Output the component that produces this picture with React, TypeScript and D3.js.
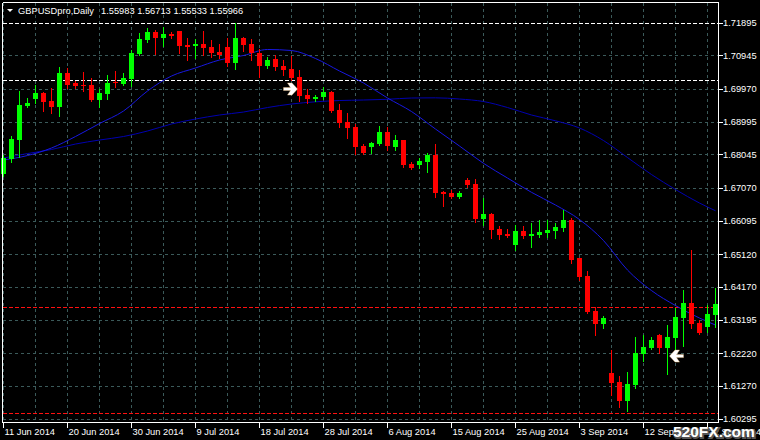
import * as d3 from 'd3'
import React from 'react'

// daily GBPUSD bars, 11 Jun 2014 .. 23 Sep 2014 (Sunday bars included)
const opens = [
  1.67471, 1.6791, 1.68467, 1.69472, 1.6966, 1.69844, 1.6961, 1.69434, 1.7043, 1.70128,
  1.70087, 1.70079, 1.69639, 1.69815, 1.70166, 1.70108, 1.70246, 1.70996, 1.71397, 1.71631,
  1.71456, 1.71573, 1.71661, 1.71259, 1.7123, 1.71289, 1.71201, 1.71045, 1.71192, 1.70723,
  1.71456, 1.7128, 1.71016, 1.70635, 1.7084, 1.70635, 1.70547, 1.70313, 1.69786, 1.69668,
  1.69727, 1.69873, 1.69346, 1.68994, 1.68848, 1.68291, 1.68262, 1.6835, 1.68701, 1.68262,
  1.68467, 1.67764, 1.67735, 1.67822, 1.68028, 1.66952, 1.66923, 1.66806, 1.67295, 1.67187,
  1.66152, 1.66308, 1.65859, 1.65713, 1.65391, 1.65801, 1.65654, 1.65684, 1.65742, 1.65801,
  1.65889, 1.66123, 1.6501, 1.64482, 1.63457, 1.63085, 1.6164, 1.61376, 1.60829, 1.61297,
  1.62206, 1.62373, 1.62754, 1.62381, 1.62674, 1.6326, 1.63691, 1.63105, 1.62997, 1.6334,
]
const highs = [
  1.68028, 1.68584, 1.69903, 1.69698, 1.70079, 1.69882, 1.69991, 1.70606, 1.70577, 1.70205,
  1.70468, 1.70275, 1.6997, 1.70372, 1.70489, 1.70439, 1.71104, 1.71602, 1.7174, 1.7169,
  1.71787, 1.71631, 1.71675, 1.71447, 1.71426, 1.71661, 1.71397, 1.7128, 1.71456, 1.71886,
  1.71494, 1.71426, 1.71142, 1.70908, 1.70958, 1.70811, 1.70928, 1.70518, 1.69953, 1.69786,
  1.7002, 1.69903, 1.69522, 1.69258, 1.68936, 1.6835, 1.68408, 1.68877, 1.68857, 1.68614,
  1.68482, 1.67822, 1.6794, 1.68086, 1.6835, 1.66982, 1.67002, 1.66973, 1.67354, 1.67324,
  1.66768, 1.66337, 1.65947, 1.65868, 1.65985, 1.65947, 1.66044, 1.66123, 1.66123, 1.66026,
  1.66425, 1.66182, 1.65024, 1.64629, 1.63565, 1.6331, 1.62314, 1.61552, 1.61669, 1.62695,
  1.62754, 1.62695, 1.62783, 1.63047, 1.63545, 1.64072, 1.65244, 1.63193, 1.63633, 1.64131,
]
const lows = [
  1.67412, 1.67822, 1.67969, 1.69434, 1.6956, 1.69326, 1.69267, 1.6917, 1.69982, 1.69982,
  1.69912, 1.69619, 1.69443, 1.6966, 1.70011, 1.70093, 1.70049, 1.70958, 1.71347, 1.70996,
  1.7123, 1.71456, 1.71016, 1.70811, 1.70878, 1.70966, 1.70908, 1.70878, 1.70635, 1.70547,
  1.71084, 1.70811, 1.70322, 1.70568, 1.70518, 1.7038, 1.70225, 1.6961, 1.69551, 1.6961,
  1.69668, 1.69287, 1.68857, 1.68534, 1.68057, 1.68071, 1.68095, 1.68335, 1.68174, 1.68174,
  1.67676, 1.67617, 1.67647, 1.67529, 1.66797, 1.66542, 1.66759, 1.66776, 1.67099, 1.66073,
  1.65977, 1.65604, 1.65566, 1.65625, 1.65244, 1.65604, 1.65341, 1.65634, 1.65616, 1.65604,
  1.6581, 1.64872, 1.64365, 1.63407, 1.62762, 1.62967, 1.61004, 1.60635, 1.60518, 1.61209,
  1.62001, 1.62343, 1.62226, 1.61602, 1.62352, 1.6244, 1.6295, 1.62783, 1.62841, 1.62997,
]
const closes = [
  1.6794, 1.68496, 1.69493, 1.69551, 1.69844, 1.6958, 1.69434, 1.7043, 1.70079, 1.70049,
  1.70049, 1.69639, 1.69844, 1.70137, 1.70128, 1.70284, 1.71025, 1.71426, 1.71631, 1.71456,
  1.71573, 1.71514, 1.71221, 1.71201, 1.71289, 1.71163, 1.71007, 1.70958, 1.70714, 1.71456,
  1.71251, 1.71016, 1.70635, 1.70811, 1.70606, 1.70518, 1.70284, 1.69756, 1.69668, 1.69727,
  1.69873, 1.69317, 1.68974, 1.68827, 1.68262, 1.68086, 1.68379, 1.68701, 1.68291, 1.68467,
  1.67735, 1.67647, 1.67852, 1.68028, 1.66914, 1.66894, 1.66806, 1.66923, 1.67149, 1.66152,
  1.66299, 1.6583, 1.65684, 1.65654, 1.65801, 1.65654, 1.65713, 1.65771, 1.6583, 1.65918,
  1.66123, 1.6496, 1.64462, 1.63436, 1.63085, 1.63252, 1.61356, 1.60829, 1.61327, 1.62226,
  1.62402, 1.62607, 1.62381, 1.62695, 1.63281, 1.63691, 1.63085, 1.62812, 1.63369, 1.63662,
]

// moving averages, read every third bar
const maBars = [0, 3, 6, 9, 12, 15, 18, 21, 24, 27, 30, 33, 36, 39, 42, 45, 48, 51, 54, 57, 60, 63, 66, 69, 72, 75, 78, 81, 84, 87, 89]
const fastMA = [
  1.67881, 1.68013, 1.68233, 1.6857, 1.6895, 1.69317, 1.69903, 1.70342, 1.70577, 1.70811,
  1.70943, 1.71119, 1.71089, 1.70855, 1.70489, 1.70137, 1.69698, 1.69302, 1.68789, 1.68291,
  1.67784, 1.67354, 1.66935, 1.66563, 1.66138, 1.65522, 1.64658, 1.64057, 1.63618, 1.63252, 1.63047,
]
const slowMA = [
  1.6794, 1.68071, 1.68189, 1.6835, 1.68467, 1.6857, 1.68731, 1.68936, 1.69082, 1.692,
  1.69287, 1.69419, 1.69522, 1.69586, 1.69624, 1.69639, 1.6966, 1.69698, 1.69703, 1.69668,
  1.69595, 1.69419, 1.692, 1.6903, 1.68819, 1.68452, 1.67954, 1.67456, 1.67017, 1.66621, 1.66395,
]

const priceTicks = [1.71895, 1.70945, 1.6997, 1.68995, 1.68045, 1.6707, 1.66095, 1.6512, 1.6417, 1.63195, 1.6222, 1.6127, 1.60295]
const dateBars = [0, 8, 16, 24, 32, 40, 48, 56, 64, 72, 80, 88]
const dateLabels = ['11 Jun 2014', '20 Jun 2014', '30 Jun 2014', '9 Jul 2014', '18 Jul 2014', '28 Jul 2014', '6 Aug 2014', '15 Aug 2014', '25 Aug 2014', '3 Sep 2014', '12 Sep 2014', '22 Sep 2014']

const whiteLevels = [1.71895, 1.70225]
const redLevels = [1.63574, 1.60477]

const arrowBars = [37, 83]
const arrowPrices = [1.69961, 1.62138]
const arrowDirs = [1, -1]

const W = 760
const H = 440
const left = 2.5
const right = 718.5
const top = 2.5
const bottom = 422.5
const font = '"Liberation Sans", Arial, sans-serif'
const gridColor = '#3b5a5a'

export default function App() {
  const x = d3.scaleLinear().domain([0, 89]).range([3.5, 715.5])
  const y = d3.scaleLinear().domain([1.60295, 1.71895]).range([419, 23])
  const py = (v: number) => Math.round(y(v)) + 0.5

  const fastLine = d3
    .line<number>()
    .x((_, i) => x(maBars[i]))
    .y(d => y(d))
    .curve(d3.curveMonotoneX)
  const slowLine = d3
    .line<number>()
    .x((_, i) => x(maBars[i]))
    .y(d => y(d))
    .curve(d3.curveMonotoneX)

  const gridBars = d3.range(0, 90, 4)

  return (
    <svg width={W} height={H} style={{ position: 'absolute', left: 0, top: 0, background: '#000' }}>
      <rect width={W} height={H} fill="#000" />
      <g shapeRendering="crispEdges" stroke={gridColor} strokeDasharray="3,3">
        {priceTicks.map(t => (
          <line key={'h' + t} x1={left} x2={right} y1={py(t)} y2={py(t)} />
        ))}
        {gridBars.map(b => (
          <line key={'v' + b} x1={x(b)} x2={x(b)} y1={top} y2={bottom} />
        ))}
      </g>
      <g shapeRendering="crispEdges" strokeDasharray="4,2">
        {whiteLevels.map(l => (
          <line key={'w' + l} x1={left} x2={right} y1={py(l)} y2={py(l)} stroke="#fff" />
        ))}
        {redLevels.map(l => (
          <line key={'r' + l} x1={left} x2={right} y1={py(l)} y2={py(l)} stroke="#ff1010" />
        ))}
      </g>
      <path d={slowLine(slowMA) || ''} fill="none" stroke="#0000b0" strokeWidth={1} />
      <path d={fastLine(fastMA) || ''} fill="none" stroke="#1818e0" strokeWidth={1} />
      <g shapeRendering="crispEdges">
        {opens.map((o, i) => {
          const c = closes[i]
          const col = c >= o ? '#00ff00' : '#ff0000'
          const yt = Math.round(y(Math.max(o, c)))
          const yb = Math.round(y(Math.min(o, c)))
          return (
            <g key={i}>
              <line x1={x(i)} x2={x(i)} y1={Math.round(y(highs[i]))} y2={Math.round(y(lows[i])) + 1} stroke={col} />
              <rect x={x(i) - 2.5} y={yt} width={5} height={Math.max(1, yb - yt)} fill={col} />
            </g>
          )
        })}
      </g>
      {arrowBars.map((b, i) => {
        const d = arrowDirs[i]
        const cx = x(b) - d * 9
        const cy = y(arrowPrices[i])
        return (
          <path
            key={'a' + b}
            transform={`translate(${cx},${cy}) scale(${d},1)`}
            d="M-7,-1.5 L0,-1.5 L-3,-6 L1.5,-6 L7,0 L1.5,6 L-3,6 L0,1.5 L-7,1.5 Z"
            fill="#fff"
            stroke="#f0c080"
            strokeWidth={0.4}
          />
        )
      })}
      <g shapeRendering="crispEdges" stroke="#fff" fill="none">
        <line x1={left} x2={right} y1={top} y2={top} />
        <line x1={left} x2={left} y1={top} y2={bottom} />
        <line x1={right} x2={right} y1={top} y2={bottom} />
        <line x1={left} x2={right} y1={bottom} y2={bottom} />
        {priceTicks.map(t => (
          <line key={'rt' + t} x1={right} x2={right + 4} y1={py(t)} y2={py(t)} />
        ))}
        {dateBars.map(b => (
          <line key={'dt' + b} x1={x(b)} x2={x(b)} y1={bottom} y2={bottom + 5} />
        ))}
      </g>
      <g fontFamily={font} fontSize={9.3} fill="#fff">
        {priceTicks.map(t => (
          <text key={'pl' + t} x={723} y={y(t) + 3.4}>
            {t.toFixed(5)}
          </text>
        ))}
        {dateBars.map((b, i) => (
          <text key={'dl' + b} x={x(b) + 1} y={435}>
            {dateLabels[i]}
          </text>
        ))}
        <path d="M7,9 L13,9 L10,12 Z" />
        <text x={18} y={13.5}>GBPUSDpro,Daily</text>
        <text x={101} y={13.5}>1.55983 1.56713 1.55533 1.55966</text>
      </g>
      <g fontFamily={font} fontSize={15.5} fontWeight="bold">
        <text x={674} y={438} fill="#555" stroke="#555" strokeWidth={2}>520FX.com</text>
        <text x={673} y={437} fill="#fff">520FX.com</text>
      </g>
    </svg>
  )
}
